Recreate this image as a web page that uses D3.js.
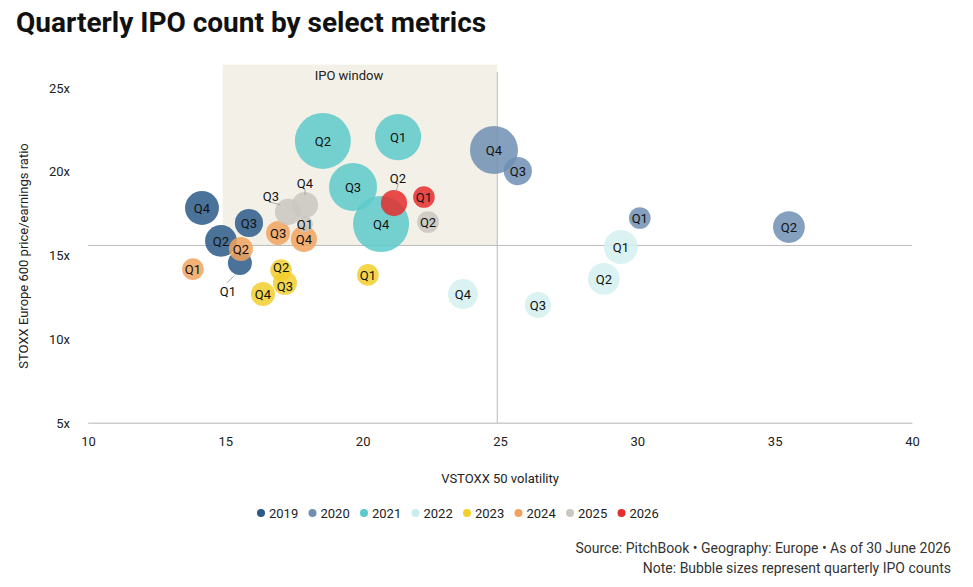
<!DOCTYPE html>
<html><head><meta charset="utf-8">
<script src="https://cdn.jsdelivr.net/npm/d3@7"></script>
<style>body{margin:0;background:#fff;font-family:Roboto,"Open Sans",sans-serif}</style>
</head><body><svg id="c" width="973" height="587"></svg>
<script>
const years=["2019","2020","2021","2022","2023","2024","2025","2026"];
const yearColors=["#2c5a88","#6f8fb3","#5ccaca","#d3f0f0","#f2cf2e","#f1a35e","#c9c7c0","#e52d2d"];
const xTicks=[10,15,20,25,30,35,40];
const yTicks=[5,10,15,20,25];
// [year, quarter, volatility, P/E, IPO count]
const points=[
["2019","Q4",14.15,17.84,32],["2019","Q3",15.86,16.94,22],["2019","Q2",14.84,15.87,28],["2019","Q1",15.53,14.55,16],
["2020","Q4",24.78,21.30,64],["2020","Q3",25.65,20.04,22],["2020","Q1",30.09,17.24,13],["2020","Q2",35.52,16.70,28],
["2021","Q2",18.55,21.84,87],["2021","Q1",21.29,22.07,59],["2021","Q3",19.65,19.09,64],["2021","Q4",20.67,16.88,87],
["2022","Q4",23.65,12.70,25],["2022","Q3",26.38,12.04,19],["2022","Q2",28.78,13.60,28],["2022","Q1",29.40,15.51,32],
["2023","Q1",20.19,13.84,13],["2023","Q2",17.03,14.13,13],["2023","Q3",17.17,13.36,16],["2023","Q4",16.37,12.70,16],
["2024","Q1",13.82,14.19,13],["2024","Q2",15.57,15.39,16],["2024","Q3",16.92,16.34,16],["2024","Q4",17.86,15.99,19],
["2025","Q3",17.28,17.60,19],["2025","Q4",17.90,18.01,19],["2025","Q1",17.90,16.88,7],["2025","Q2",22.38,17.00,13],
["2026","Q1",22.23,18.49,13],["2026","Q2",21.14,18.13,19]
];
const refX=24.9, refY=15.6, windowX=[14.9,24.9], windowY=[15.6,26.4];

const svg=d3.select("#c");
const x=d3.scaleLinear().domain([10,40]).range([88,912]);
const y=d3.scaleLinear().domain([5,25]).range([423,88]);
const r=d3.scaleSqrt().domain([0,87]).range([0,28]);
const col=d3.scaleOrdinal().domain(years).range(yearColors);

svg.append("text").attr("x",16).attr("y",32).attr("font-size",28).attr("font-weight",700).attr("fill","#111").text("Quarterly IPO count by select metrics");

svg.append("rect").attr("x",x(windowX[0])).attr("y",y(windowY[1])).attr("width",x(windowX[1])-x(windowX[0])).attr("height",y(windowY[0])-y(windowY[1])).attr("fill","#f3f1e7");
svg.append("text").attr("x",(x(windowX[0])+x(windowX[1]))/2-11).attr("y",80).attr("text-anchor","middle").attr("font-size",13).attr("fill","#222").text("IPO window");

svg.append("line").attr("x1",x(10)).attr("x2",x(40)).attr("y1",y(refY)).attr("y2",y(refY)).attr("stroke","#bbb");
svg.append("line").attr("x1",x(refX)).attr("x2",x(refX)).attr("y1",72).attr("y2",y(5)).attr("stroke","#bbb");

const xa=svg.append("g").attr("transform",`translate(0,${y(5)})`).call(d3.axisBottom(x).tickValues(xTicks).tickSize(0).tickPadding(14));
xa.select(".domain").attr("stroke","#ccc");
const ya=svg.append("g").attr("transform",`translate(${x(10)-18},0)`).call(d3.axisLeft(y).tickValues(yTicks).tickFormat(d=>d+"x").tickSize(0).tickPadding(0));
ya.select(".domain").remove();
svg.selectAll(".tick text").attr("font-size",13).attr("fill","#222").attr("font-family","Roboto");
svg.append("line").attr("x1",x(10)).attr("x2",x(40)).attr("y1",y(5)).attr("y2",y(5)).attr("stroke","#ccc");

svg.append("text").attr("x",500).attr("y",483).attr("text-anchor","middle").attr("font-size",13).attr("fill","#222").text("VSTOXX 50 volatility");
svg.append("text").attr("transform","translate(28,256) rotate(-90)").attr("text-anchor","middle").attr("font-size",13).attr("fill","#222").text("STOXX Europe 600 price/earnings ratio");

const offsets={"2019Q1":[-12,28],"2025Q3":[-17,-16],"2025Q4":[0,-22],"2026Q2":[4,-25],"2023Q2":[0,-3],"2023Q3":[0,3]};
const g=svg.append("g");
g.selectAll("circle").data(points).join("circle")
 .attr("cx",d=>x(d[2])).attr("cy",d=>y(d[3])).attr("r",d=>r(d[4]))
 .attr("fill",d=>col(d[0])).attr("fill-opacity",0.85);
points.forEach(d=>{
  const k=d[0]+d[1], o=offsets[k];
  const cx=x(d[2]), cy=y(d[3]);
  if(o && Math.abs(o[1])>10){
    const lx=cx+o[0], ly=cy+o[1];
    g.append("line").attr("x1",cx+o[0]*0.45).attr("y1",cy+o[1]*0.45).attr("x2",lx+o[0]*0.1).attr("y2",ly+(o[1]>0?-8:6)).attr("stroke","#999").attr("stroke-width",0.8);
    g.append("text").attr("x",lx).attr("y",ly+5).attr("text-anchor","middle").attr("font-size",13).attr("fill","#111").text(d[1]);
  } else {
    const dy=o?o[1]:0;
    g.append("text").attr("x",cx).attr("y",cy+5+dy).attr("text-anchor","middle").attr("font-size",13).attr("fill","#111").text(d[1]);
  }
});

const lg=svg.append("g");
let lx=257;
years.forEach((yr,i)=>{
  lg.append("circle").attr("cx",lx+4).attr("cy",513).attr("r",4).attr("fill",yr==="2022"?"#c9eded":col(yr));
  lg.append("text").attr("x",lx+12).attr("y",518).attr("font-size",13).attr("fill","#222").text(yr);
  lx+=51.5;
});
svg.append("text").attr("x",951).attr("y",553).attr("text-anchor","end").attr("font-size",14).attr("fill","#333").text("Source: PitchBook • Geography: Europe • As of 30 June 2026");
svg.append("text").attr("x",951).attr("y",573).attr("text-anchor","end").attr("font-size",14).attr("fill","#333").text("Note: Bubble sizes represent quarterly IPO counts");
</script></body></html>
